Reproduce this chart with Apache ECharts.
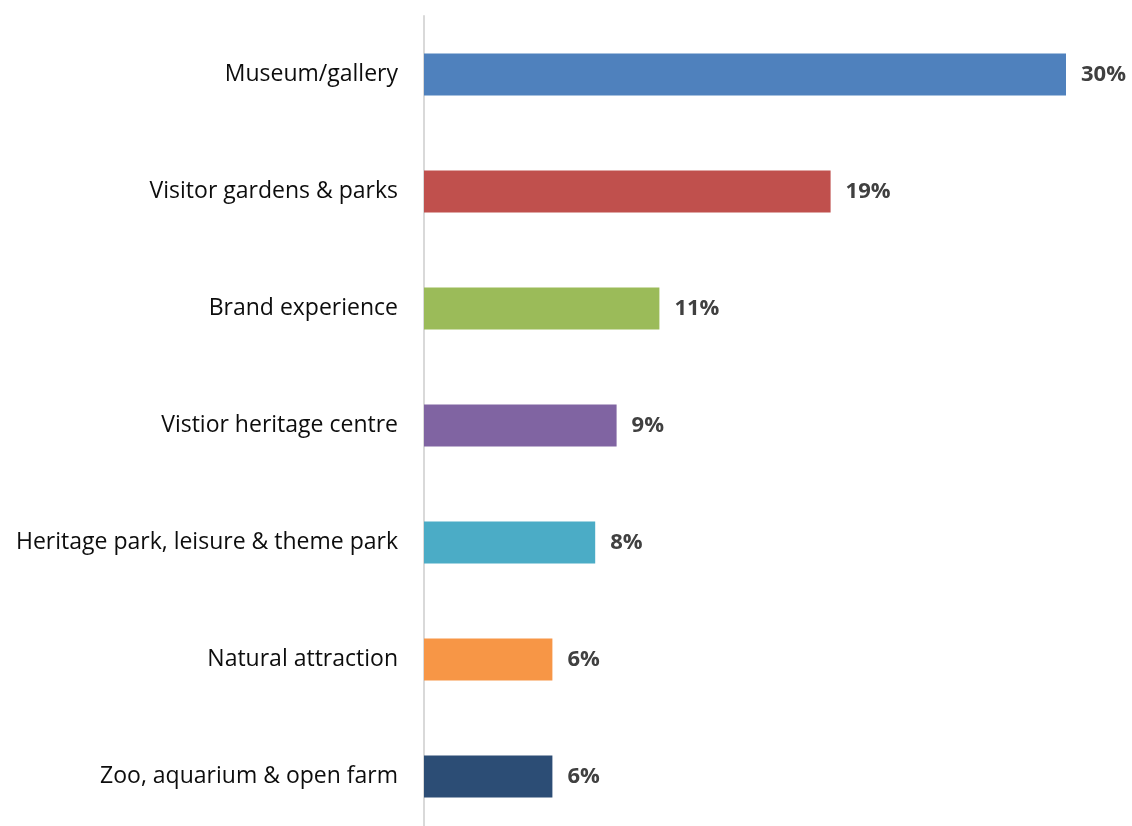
<!DOCTYPE html>
<html>
<head>
<meta charset="utf-8">
<style>
  html, body { margin: 0; padding: 0; background: #ffffff; }
  #chart { width: 1132px; height: 826px; }
</style>
<script src="https://cdn.jsdelivr.net/npm/echarts@6/dist/echarts.min.js"></script>
</head>
<body>
<div id="chart"></div>
<script>
// Attraction types, top to bottom
const categories = [
  'Museum/gallery',
  'Visitor gardens & parks',
  'Brand experience',
  'Vistior heritage centre',
  'Heritage park, leisure & theme park',
  'Natural attraction',
  'Zoo, aquarium & open farm'
];
// Share of respondents (%)
const shares = [30, 19, 11, 9, 8, 6, 6];
// One colour per bar
const barColors = ['#4F81BD', '#C0504D', '#9BBB59', '#8064A2', '#4BACC6', '#F79646', '#2C4D75'];

const chart = echarts.init(document.getElementById('chart'), null, { renderer: 'canvas' });
chart.setOption({
  animation: false,
  backgroundColor: '#ffffff',
  grid: {
    left: 424, right: 66, top: 16, bottom: -9,
    containLabel: false,
    outerBoundsMode: 'none'
  },
  xAxis: {
    type: 'value',
    min: 0,
    max: 30,
    show: false
  },
  yAxis: {
    type: 'category',
    data: categories,
    inverse: true,
    axisLine: { show: true, lineStyle: { color: '#d9d9d9', width: 2 } },
    axisTick: { show: false },
    axisLabel: {
      margin: 26,
      padding: [4, 0, 0, 0],
      color: '#0d0d0d',
      fontFamily: '"Open Sans", sans-serif',
      fontSize: 23
    },
    splitLine: { show: false }
  },
  series: [{
    type: 'bar',
    data: shares.map((v, i) => ({ value: v, itemStyle: { color: barColors[i] } })),
    barWidth: 42,
    label: {
      show: true,
      position: 'right',
      distance: 15,
      formatter: p => p.value + '%',
      color: '#404040',
      fontWeight: 'bold',
      fontFamily: '"Open Sans", sans-serif',
      fontSize: 22
    }
  }]
});
</script>
</body>
</html>
